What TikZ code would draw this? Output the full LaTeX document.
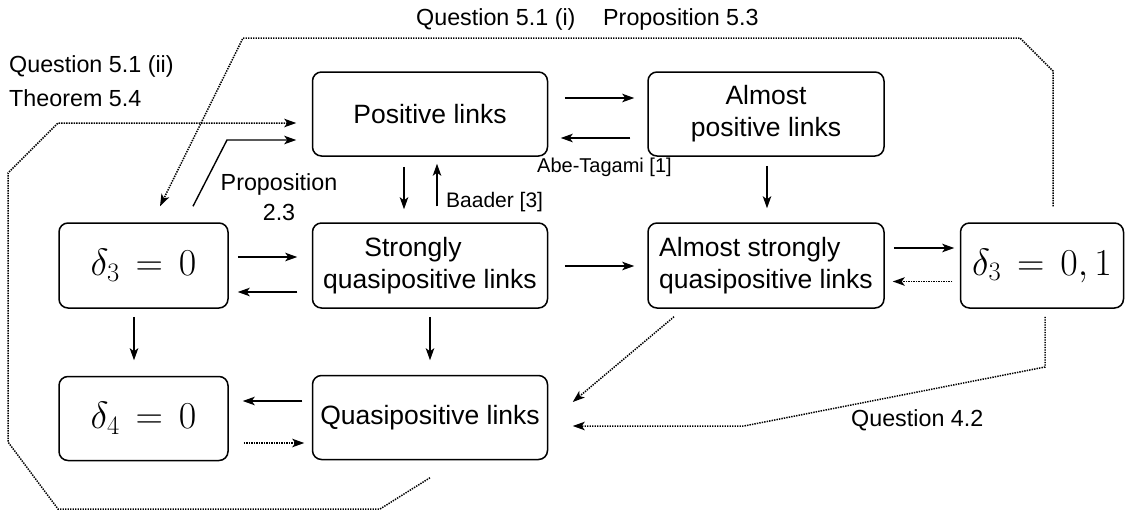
\RequirePackage{fix-cm}
\documentclass[tikz,border=0pt]{standalone}
\usepackage[no-math]{fontspec}
\setmainfont{Liberation Sans}
\usetikzlibrary{arrows.meta}
\newcommand\myeqs{\mskip7.5mu{=}\mskip7.5mu}
\begin{document}
\begin{tikzpicture}[x=1pt,y=-1pt,
  box/.style={draw, line width=1.5pt, rounded corners=9pt, inner sep=0pt, align=center,
    font=\fontsize{26.5}{32}\selectfont},
  mth/.style={font=\fontsize{38}{46}\selectfont},
  arr/.style={line width=1.4pt, -{Stealth[length=12pt,width=8.5pt,inset=3pt]}},
  dotln/.style={line width=1.5pt, dash pattern=on 1.4pt off 1.1pt},
  lab/.style={inner sep=0pt, font=\fontsize{23.3}{30}\selectfont}
]
\useasboundingbox (0,0) rectangle (1125,512);

% boxes
\node[box, minimum width=235pt, minimum height=84pt] (pos) at (430,114) {Positive links};
\node[box, minimum width=236pt, minimum height=84pt] (ap) at (766,114) {Almost\\positive links};
\node[box, mth, minimum width=169pt, minimum height=85pt] (d30) at (143.5,265.5) {\raisebox{-4pt}{$\delta_3\myeqs0$}};
\node[box, minimum width=235pt, minimum height=85pt] (sqp) at (430,265.5) {Strongly\hspace*{34pt}\\quasipositive links};
\node[box, align=left, minimum width=236pt, minimum height=85pt] (asqp) at (766,265.5) {Almost strongly\\quasipositive links};
\node[box, mth, minimum width=163pt, minimum height=85pt] (d301) at (1042,265.5) {\raisebox{-4pt}{$\delta_3\myeqs0,1$}};
\node[box, mth, minimum width=169pt, minimum height=84pt] (d40) at (143.5,418.5) {\raisebox{2pt}{$\delta_4\myeqs0$}};
\node[box, minimum width=235pt, minimum height=84pt] (qp) at (430,417.5) {Quasipositive links};

% labels
\node[lab, anchor=base west] (lq51ii) at (9,72) {Question 5.1 (ii)};
\node[lab, anchor=base west] (lt54) at (9,106) {Theorem 5.4};
\node[lab, anchor=base west] (lq51i) at (416,25) {Question 5.1 (i)};
\node[lab, anchor=base west] (lp53) at (603,25) {Proposition 5.3};
\node[lab, anchor=base west, font=\fontsize{20}{24}\selectfont] (labe) at (537,172) {Abe-Tagami [1]};
\node[lab, anchor=base west, font=\fontsize{21}{25}\selectfont] (lbaader) at (446,207) {Baader [3]};
\node[lab, align=center] (lp23) at (279,197) {Proposition\\2.3};
\node[lab, anchor=base west] (lq42) at (851,426) {Question 4.2};

% solid arrows
\draw[arr] ([xshift=16.5pt,yshift=16pt]pos.east) -- ([xshift=-13pt,yshift=16pt]ap.west);
\draw[arr] ([xshift=-17pt,yshift=-24pt]ap.west) -- ([xshift=12.5pt,yshift=-24pt]pos.east);
\draw[arr] ([xshift=-26pt,yshift=-10pt]pos.south) -- ([xshift=-26pt,yshift=13pt]sqp.north);
\draw[arr] ([xshift=7pt,yshift=16pt]sqp.north) -- ([xshift=7pt,yshift=-7pt]pos.south);
\draw[arr] ([xshift=1pt,yshift=-9pt]ap.south) -- ([xshift=1pt,yshift=14pt]asqp.north);
\draw[arr] ([xshift=9pt,yshift=8.5pt]d30.east) -- ([xshift=-14.5pt,yshift=8.5pt]sqp.west);
\draw[arr] ([xshift=-14.5pt,yshift=-26.5pt]sqp.west) -- ([xshift=9pt,yshift=-26.5pt]d30.east);
\draw[arr] ([xshift=16.5pt,yshift=-0.5pt]sqp.east) -- ([xshift=-13pt,yshift=-0.5pt]asqp.west);
\draw[arr] ([xshift=9pt,yshift=17.5pt]asqp.east) -- ([xshift=-5.5pt,yshift=17.5pt]d301.west);
\draw[arr] ([xshift=-9.5pt,yshift=-8pt]d30.south) -- ([xshift=-9.5pt,yshift=15.5pt]d40.north);
\draw[arr] ([yshift=-8pt]sqp.south) -- ([yshift=14.5pt]qp.north);
\draw[arr] ([xshift=-9.5pt,yshift=16.5pt]qp.west) -- ([xshift=14pt,yshift=17.5pt]d40.east);
\coordinate (p23) at (227,140);
\draw[arr] ([xshift=49.5pt,yshift=16pt]d30.north) -- (p23) -- ([xshift=-15.5pt,yshift=-26pt]pos.west);

% dotted arrows
\draw[arr, dotln] ([xshift=-7.5pt,yshift=-16pt]d301.west) -- ([xshift=8pt,yshift=-16pt]asqp.east);
\draw[arr, dotln] ([xshift=15pt,yshift=-24.5pt]d40.east) -- ([xshift=-7.5pt,yshift=-25.5pt]qp.west);
\draw[arr, dotln] ([xshift=-92pt,yshift=-8pt]asqp.south) -- ([xshift=24.5pt,yshift=15.5pt]qp.east);
\coordinate (q42a) at (1045,367);
\coordinate (q42b) at (744,426);
\draw[arr, dotln] ([xshift=3pt,yshift=-8pt]d301.south) -- (q42a) -- (q42b) -- ([xshift=24.5pt,yshift=-8.5pt]qp.east);
\coordinate (t1) at (1053,71);
\coordinate (t2) at (1020,38);
\coordinate (t3) at (243,38);
\draw[arr, dotln] ([xshift=11pt,yshift=16pt]d301.north) -- (t1) -- (t2) -- (t3) -- ([xshift=16.5pt,yshift=16pt]d30.north);
\coordinate (b1) at (380,509);
\coordinate (b2) at (58,509);
\coordinate (b3) at (8,442);
\coordinate (b4) at (8,173);
\coordinate (b5) at (58,123);
\draw[arr, dotln] ([yshift=-17.5pt]qp.south) -- (b1) -- (b2) -- (b3) -- (b4) -- (b5) -- ([xshift=-15.5pt,yshift=-9pt]pos.west);
\end{tikzpicture}
\end{document}
